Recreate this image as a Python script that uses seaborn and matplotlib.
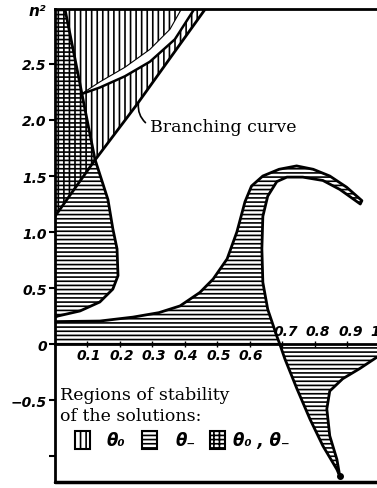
import matplotlib
matplotlib.use("Agg")
import matplotlib.pyplot as plt
import seaborn as sns
from matplotlib.patches import Rectangle

# ---- boundary curves in (x, n^2) ----
branch_x = [0.0, 0.12, 0.25, 0.465]
branch_y = [1.14, 1.63, 2.13, 3.0]

lens_x = [0.03, 0.062, 0.092, 0.123, 0.163, 0.178, 0.191, 0.194, 0.178, 0.138, 0.077, 0.009, 0.0]
lens_y = [3.0, 2.54, 2.10, 1.65, 1.29, 1.03, 0.85, 0.61, 0.49, 0.375, 0.295, 0.25, 0.24]

gap_upper_x = [0.08, 0.138, 0.215, 0.292, 0.354, 0.391]
gap_upper_y = [2.23, 2.34, 2.47, 2.63, 2.81, 3.0]
gap_lower_x = [0.08, 0.138, 0.215, 0.292, 0.369, 0.431]
gap_lower_y = [2.23, 2.29, 2.39, 2.52, 2.72, 3.0]

hook_outer_x = [0.0, 0.138, 0.24, 0.32, 0.385, 0.446, 0.487, 0.53, 0.56, 0.585,
                0.605, 0.64, 0.69, 0.744, 0.795, 0.846, 0.898, 0.945]
hook_outer_y = [0.20, 0.205, 0.24, 0.28, 0.34, 0.46, 0.58, 0.76, 1.0, 1.27,
                1.41, 1.5, 1.56, 1.59, 1.56, 1.5, 1.4, 1.28]
hook_inner_x = [0.94, 0.877, 0.825, 0.763, 0.714, 0.683, 0.655, 0.64, 0.637, 0.64, 0.655, 0.683, 0.692]
hook_inner_y = [1.25, 1.38, 1.46, 1.49, 1.49, 1.45, 1.32, 1.14, 0.85, 0.55, 0.31, 0.07, 0.0]

tail_left_x = [0.692, 0.708, 0.745, 0.785, 0.825, 0.868, 0.877]
tail_left_y = [0.0, -0.134, -0.40, -0.67, -0.91, -1.12, -1.18]
tail_right_x = [0.877, 0.868, 0.846, 0.837, 0.846, 0.886, 0.938, 0.99, 1.05]
tail_right_y = [-1.18, -1.03, -0.82, -0.58, -0.42, -0.31, -0.22, -0.12, -0.09]

x_ticks = [0.1, 0.2, 0.3, 0.4, 0.5, 0.6, 0.7, 0.8, 0.9, 1.0]
x_labels = ["0.1", "0.2", "0.3", "0.4", "0.5", "0.6", "0.7", "0.8", "0.9", "1.0"]
y_ticks = [-1.0, -0.5, 0.0, 0.5, 1.0, 1.5, 2.0, 2.5]
y_labels = ["", "\u22120.5", "0", "0.5", "1.0", "1.5", "2.0", "2.5"]

sns.set_theme(style="white")
plt.rcParams["font.family"] = ["DejaVu Sans"]
plt.rcParams["hatch.linewidth"] = 1.2

fig = plt.figure(figsize=(3.77, 4.89), dpi=100)
ax = fig.add_axes([55 / 377, 6 / 489, 341 / 377, 473 / 489])
ax.set_xlim(0, 1.05)
ax.set_ylim(-1.232, 2.991)

VERT, HORZ = "|||", "----"
INK = "black"


def hatched(xs, ys, hatch, z=1):
    ax.fill(xs, ys, facecolor="none", edgecolor=INK, hatch=hatch, linewidth=0, zorder=z)


# theta_0 region: above the branching curve
hatched(branch_x + [0.47, 0.0], branch_y + [3.1, 3.1], VERT)
# theta_- lens along the axis of ordinates
hatched([0.0, 0.031] + lens_x, [3.1, 3.1] + lens_y, HORZ)
# unhatched sliver inside theta_0
ax.fill(gap_upper_x + [0.393, 0.433] + gap_lower_x[::-1],
        gap_upper_y + [3.1, 3.1] + gap_lower_y[::-1],
        facecolor="white", edgecolor="none", zorder=1.5)
# theta_- band with the hook
hatched([0.0] + hook_outer_x + hook_inner_x, [0.0] + hook_outer_y + hook_inner_y, HORZ)
# theta_- tail below the axis
hatched(tail_left_x + tail_right_x[1:] + [1.05], tail_left_y + tail_right_y[1:] + [0.0], HORZ)

# outlines
line_kw = dict(sort=False, estimator=None, color=INK, ax=ax, legend=False)
sns.lineplot(x=branch_x, y=branch_y, linewidth=2.0, **line_kw)
sns.lineplot(x=lens_x, y=lens_y, linewidth=2.0, **line_kw)
sns.lineplot(x=gap_lower_x, y=gap_lower_y, linewidth=1.8, **line_kw)
sns.lineplot(x=gap_upper_x, y=gap_upper_y, linewidth=0.8, **line_kw)
sns.lineplot(x=hook_outer_x + hook_inner_x + tail_left_x + tail_right_x[1:],
             y=hook_outer_y + hook_inner_y + tail_left_y + tail_right_y[1:],
             linewidth=2.0, **line_kw)
ax.plot(tail_left_x[-1], tail_left_y[-1], "o", color=INK, ms=4, zorder=3)

# frame: left and top edges, abscissa through n^2 = 0, bottom edge
for side in ("left", "top", "bottom"):
    ax.spines[side].set_color(INK)
    ax.spines[side].set_linewidth(2.0)
ax.spines["right"].set_visible(False)
ax.spines["bottom"].set_position(("data", 0))
ax.axhline(-1.232, color=INK, lw=2.5, clip_on=False, zorder=4)

tick_font = dict(fontsize=10, style="italic", fontweight="bold", color=INK)
ax.set_yticks(y_ticks, labels=y_labels, **tick_font)
ax.set_xticks(x_ticks, labels=[""] * len(x_ticks))
ax.tick_params(axis="y", direction="out", length=4, width=1.5, pad=2, left=True, colors=INK)
ax.tick_params(axis="x", direction="inout", length=5, width=1.0, bottom=True, colors=INK)

for xv, lab in zip(x_ticks, x_labels):
    if xv < 0.65:
        ax.text(xv + 0.004, -0.04, lab, ha="center", va="top", clip_on=False, **tick_font)
    else:
        ax.text(xv + 0.01, 0.05, lab, ha="center", va="bottom", clip_on=False, **tick_font)

fig.text(37 / 377, 1 - 11 / 489, "n²", ha="center", va="center", fontsize=11,
         style="italic", fontweight="bold", color=INK)

serif = dict(family="DejaVu Serif", fontsize=12.5, color=INK)
ax.text(0.292, 1.90, "Branching curve", ha="left", va="baseline", **serif)
ax.annotate("", xy=(0.258, 2.17), xytext=(0.285, 1.96),
            arrowprops=dict(arrowstyle="-", color=INK, lw=1.2, connectionstyle="arc3,rad=-0.3"))

ax.text(0.015, -0.49, "Regions of stability", ha="left", va="baseline", **serif)
ax.text(0.015, -0.68, "of the solutions:", ha="left", va="baseline", **serif)

box_y, box_h, box_w = -0.938, 0.161, 0.047
for bx, hatch in ((0.0615, VERT), (0.268, HORZ), (0.477, "|||----")):
    ax.add_patch(Rectangle((bx, box_y), box_w, box_h, facecolor="white", edgecolor=INK,
                           hatch=hatch, lw=1.5, zorder=3))
theta_font = dict(fontsize=12, style="italic", fontweight="bold", color=INK, va="center")
ax.text(0.16, -0.857, "θ₀", ha="left", **theta_font)
ax.text(0.37, -0.857, "θ₋", ha="left", **theta_font)
ax.text(0.548, -0.857, "θ₀ , θ₋", ha="left", **theta_font)

fig.savefig("out.png", dpi=100)
